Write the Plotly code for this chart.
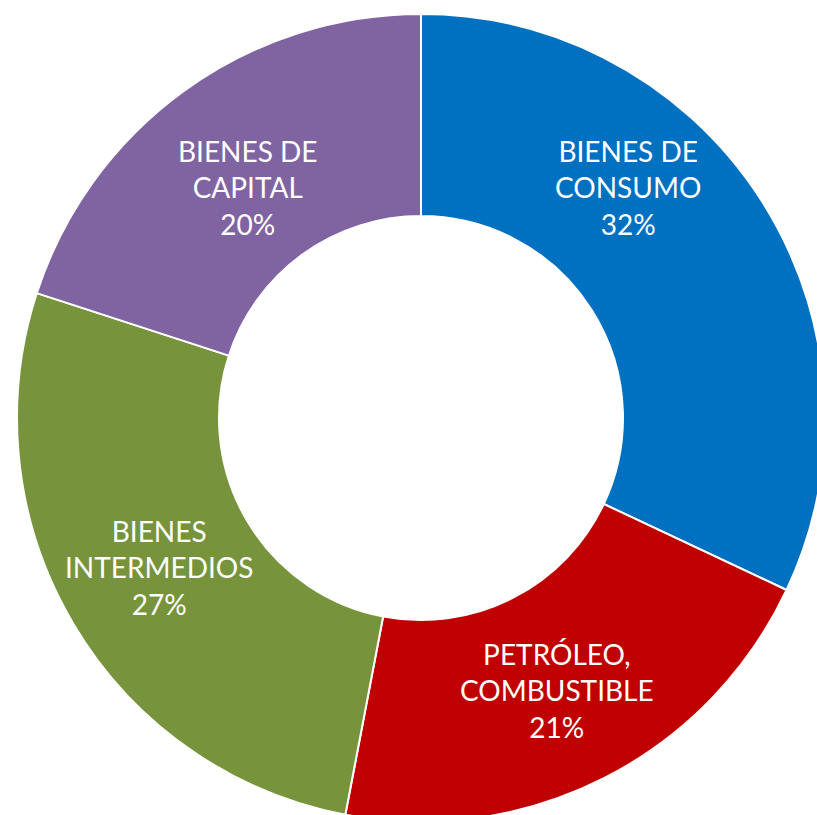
import plotly.graph_objects as go

categories = ["BIENES DE<br>CONSUMO", "PETRÓLEO,<br>COMBUSTIBLE", "BIENES<br>INTERMEDIOS", "BIENES DE<br>CAPITAL"]
values = [32, 21, 27, 20]
colors = ["#0070C0", "#C00000", "#77933C", "#8064A2"]

W, H = 842, 836
cx, cy, R = 421, 418, 404
FONT = dict(family="Lato", size=28, color="white")

total = sum(values)

fig = go.Figure(go.Pie(
    labels=categories,
    values=values,
    sort=False,
    direction="clockwise",
    rotation=0,
    hole=0.5,
    marker=dict(colors=colors, line=dict(color="white", width=2)),
    textinfo="none",
    showlegend=False,
    hoverinfo="label+percent",
    domain=dict(x=[(cx - R) / W, (cx + R) / W], y=[(H - cy - R) / H, (H - cy + R) / H]),
))

# data-label placement (pixel centres, as positioned in the original chart)
label_px = [(628, 187), (557, 690), (159, 567), (248, 188)]
for cat, val, (px, py) in zip(categories, values, label_px):
    fig.add_annotation(
        x=px / W, y=(H - py) / H, xref="paper", yref="paper",
        xanchor="center", yanchor="middle", showarrow=False,
        text=f"{cat}<br>{round(100 * val / total)}%",
        font=FONT, align="center",
    )

fig.update_layout(
    width=W, height=H,
    margin=dict(l=0, r=0, t=0, b=0),
    paper_bgcolor="white",
    plot_bgcolor="white",
)

fig.write_html("out.html", config={"displayModeBar": False},
               post_script="document.body.style.margin='0';document.body.style.overflow='hidden';")
